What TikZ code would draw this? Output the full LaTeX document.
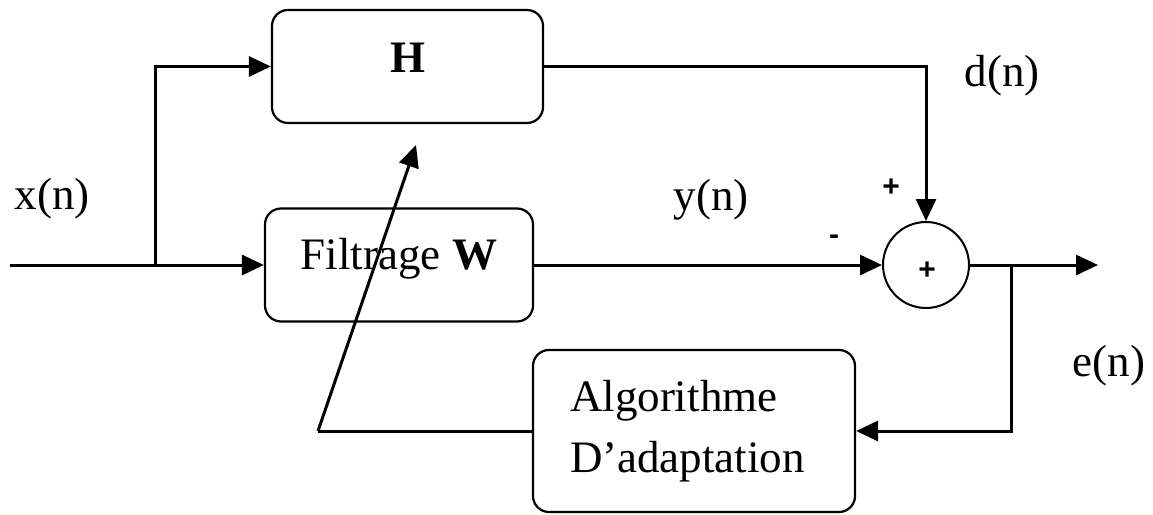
\documentclass[tikz,border=0pt]{standalone}
\usepackage{fontspec}
\setmainfont{Liberation Serif}
\newfontfamily\signfont{Liberation Sans}
\usetikzlibrary{arrows.meta}
\begin{document}
\begin{tikzpicture}[x=1pt,y=-1pt,
  blk/.style={draw,line width=2.2pt,rounded corners=16pt,inner sep=0pt,
    font=\fontsize{45}{61}\selectfont},
  conn/.style={line width=3pt,-{Triangle[length=22pt,width=20pt]}},
  wire/.style={line width=3pt},
  lbl/.style={inner sep=0pt,font=\fontsize{45}{54}\selectfont},
  sgn/.style={inner sep=0pt,font=\signfont\bfseries\fontsize{30}{36}\selectfont}]
\useasboundingbox (0,0) rectangle (1153,514);
\node[blk,minimum width=271pt,minimum height=113pt,text height=30pt,text depth=19pt] (H) at (407.5,66.5) {\textbf{H}};
\node[blk,minimum width=268pt,minimum height=113pt,text height=30pt,text depth=21pt] (W) at (399,265) {Filtrage \textbf{W}};
\node[blk,minimum width=322pt,minimum height=162pt,text width=248pt,align=left] (A) at (694,431) {Algorithme\\D’adaptation};
\node[draw,circle,line width=2pt,minimum size=86pt,inner sep=0pt] (S) at (926,265) {};
\node[sgn] (sp) at (927,271) {+};
\node[sgn] (pd) at (891,188) {+};
\node[sgn] (my) at (834,240) {-};
\node[lbl] (xn) at (52,199) {x(n)};
\node[lbl] (yn) at (711,200) {y(n)};
\node[lbl] (dn) at (1002,76) {d(n)};
\node[lbl] (en) at (1109,366) {e(n)};
\coordinate (in) at (10,265);
\coordinate (br) at (155,265);
\coordinate (out) at (1098,265);
\coordinate (eb) at (1011,265);
\coordinate (foot) at (318,431);
\coordinate (tip) at (416,145);
\draw[wire] (in) -- (br);
\draw[conn] (br) -- (W.west);
\draw[conn] (br) |- (H.west);
\draw[conn] (H.east) -| (S.north);
\draw[conn] (W.east) -- (S.west);
\draw[conn] (S.east) -- (out);
\draw[conn] (eb) |- (A.east);
\draw[wire,line join=miter] (A.west) -- (foot);
\draw[conn] (foot) -- (tip);
\end{tikzpicture}
\end{document}
